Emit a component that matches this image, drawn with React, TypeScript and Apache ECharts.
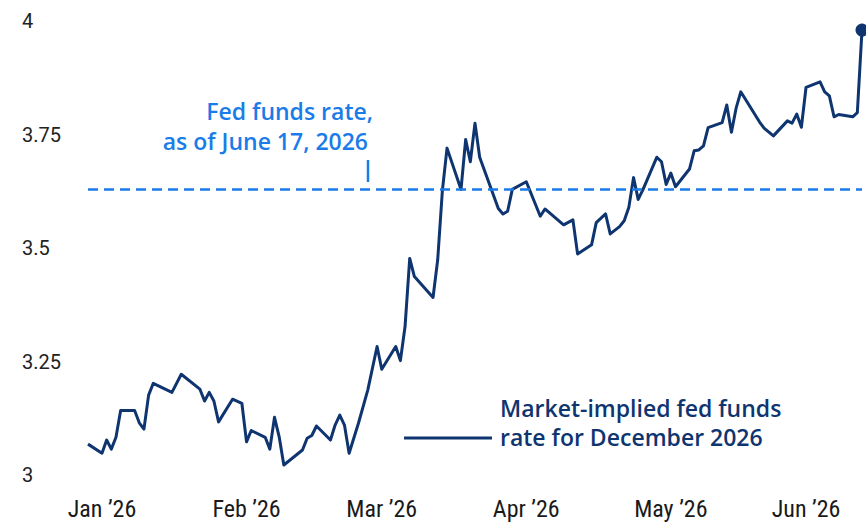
import React, { useEffect, useRef } from "react";
import * as echarts from "echarts";

const dates = [
  "2026-01-02", "2026-01-05", "2026-01-06", "2026-01-07", "2026-01-08", "2026-01-09",
  "2026-01-12", "2026-01-13", "2026-01-14", "2026-01-15", "2026-01-16", "2026-01-20",
  "2026-01-22", "2026-01-26", "2026-01-27", "2026-01-28", "2026-01-29", "2026-01-30",
  "2026-02-02", "2026-02-04", "2026-02-05", "2026-02-06", "2026-02-09", "2026-02-10",
  "2026-02-11", "2026-02-12", "2026-02-13", "2026-02-17", "2026-02-18", "2026-02-19",
  "2026-02-20", "2026-02-23", "2026-02-24", "2026-02-25", "2026-02-26", "2026-02-27",
  "2026-03-01", "2026-03-03", "2026-03-05", "2026-03-06", "2026-03-09", "2026-03-10",
  "2026-03-11", "2026-03-12", "2026-03-13", "2026-03-17", "2026-03-18", "2026-03-19",
  "2026-03-20", "2026-03-23", "2026-03-24", "2026-03-25", "2026-03-26", "2026-03-27",
  "2026-03-31", "2026-04-01", "2026-04-02", "2026-04-03", "2026-04-06", "2026-04-09",
  "2026-04-10", "2026-04-14", "2026-04-16", "2026-04-17", "2026-04-20", "2026-04-21",
  "2026-04-23", "2026-04-24", "2026-04-26", "2026-04-27", "2026-04-28", "2026-04-29",
  "2026-04-30", "2026-05-01", "2026-05-04", "2026-05-05", "2026-05-06", "2026-05-07",
  "2026-05-08", "2026-05-11", "2026-05-12", "2026-05-13", "2026-05-14", "2026-05-15",
  "2026-05-18", "2026-05-19", "2026-05-20", "2026-05-21", "2026-05-22", "2026-05-26",
  "2026-05-27", "2026-05-29", "2026-06-01", "2026-06-02", "2026-06-03", "2026-06-04",
  "2026-06-05", "2026-06-08", "2026-06-09", "2026-06-10", "2026-06-11", "2026-06-12",
  "2026-06-15", "2026-06-16", "2026-06-17",
];

const marketImpliedRate = [
  3.068, 3.048, 3.077, 3.057, 3.083, 3.142,
  3.142, 3.115, 3.101, 3.176, 3.202, 3.182,
  3.222, 3.189, 3.163, 3.182, 3.163, 3.117,
  3.167, 3.158, 3.073, 3.098, 3.083, 3.057,
  3.127, 3.084, 3.022, 3.055, 3.081, 3.087,
  3.108, 3.077, 3.11, 3.132, 3.11, 3.048,
  3.114, 3.187, 3.283, 3.233, 3.283, 3.252,
  3.327, 3.477, 3.437, 3.391, 3.474, 3.626,
  3.72, 3.629, 3.739, 3.69, 3.775, 3.7,
  3.587, 3.575, 3.581, 3.629, 3.646, 3.57,
  3.586, 3.551, 3.562, 3.487, 3.507, 3.556,
  3.575, 3.531, 3.547, 3.56, 3.59, 3.655,
  3.607, 3.628, 3.7, 3.69, 3.64, 3.665,
  3.635, 3.674, 3.714, 3.716, 3.725, 3.765,
  3.776, 3.815, 3.755, 3.808, 3.844, 3.778,
  3.764, 3.747, 3.78, 3.775, 3.795, 3.766,
  3.854, 3.866, 3.844, 3.835, 3.789, 3.794,
  3.789, 3.798, 3.98,
];

const fedFundsRate = 3.625;

const yTicks = [3, 3.25, 3.5, 3.75, 4];

const monthLabels = ["Jan \u201926", "Feb \u201926", "Mar \u201926", "Apr \u201926", "May \u201926", "Jun \u201926"];
const monthLabelDates = ["2026-01-05", "2026-02-05", "2026-03-06", "2026-04-06", "2026-05-07", "2026-06-05"];

const annotationLines = ["Fed funds rate,", "as of June 17, 2026"];
const legendLines = ["Market-implied fed funds", "rate for December 2026"];

const NAVY = "#0f3570";
const BLUE = "#1a7ce8";
const TEXT_FONT = "600 23px 'Open Sans', Lato, sans-serif";

const toTs = (s: string) => {
  const [y, m, d] = s.split("-").map(Number);
  return Date.UTC(y, m - 1, d, 12);
};

export default function App() {
  const ref = useRef<HTMLDivElement>(null);

  useEffect(() => {
    if (!ref.current) return;
    const chart = echarts.init(ref.current, null, { renderer: "svg" });
    const seriesData = dates.map((d, i) => [toTs(d), marketImpliedRate[i]]);
    const labelTs = monthLabelDates.map(toTs);
    const last = seriesData[seriesData.length - 1];

    chart.setOption({
      animation: false,
      backgroundColor: "#ffffff",
      grid: { left: 88, right: 4, top: 21, bottom: 47 },
      xAxis: {
        type: "value",
        min: toTs(dates[0]),
        max: toTs(dates[dates.length - 1]),
        axisLine: { show: false },
        axisTick: { show: false },
        splitLine: { show: false },
        axisLabel: {
          customValues: labelTs,
          hideOverlap: false,
          margin: 22,
          fontSize: 24,
          lineHeight: 24,
          color: "#1a1a1a",
          fontFamily: "'Liberation Sans Narrow', 'Roboto Condensed', Roboto, sans-serif",
          formatter: (v: number) => {
            let best = 0;
            let bd = Infinity;
            labelTs.forEach((t, i) => {
              const dd = Math.abs(t - v);
              if (dd < bd) { bd = dd; best = i; }
            });
            return monthLabels[best];
          },
        },
      },
      yAxis: {
        type: "value",
        min: yTicks[0],
        max: yTicks[yTicks.length - 1],
        interval: 0.25,
        axisLine: { show: false },
        axisTick: { show: false },
        splitLine: { show: false },
        axisLabel: {
          align: "left",
          margin: 66,
          fontSize: 20,
          color: "#222222",
          fontFamily: "Roboto, sans-serif",
          formatter: (v: number) => String(v),
        },
      },
      series: [
        {
          type: "line",
          data: seriesData,
          showSymbol: false,
          symbol: "none",
          lineStyle: { color: NAVY, width: 3, join: "round" },
          markLine: {
            silent: true,
            symbol: ["none", "none"],
            label: { show: false },
            lineStyle: { color: BLUE, width: 2.5, type: [10, 6] },
            data: [{ yAxis: fedFundsRate }],
          },
          z: 3,
        },
        {
          type: "scatter",
          data: [last],
          symbol: "circle",
          symbolSize: 13,
          clip: false,
          itemStyle: { color: NAVY, opacity: 1 },
          z: 4,
        },
      ],
      graphic: [
        {
          type: "text",
          x: 373,
          y: 111,
          style: {
            text: annotationLines[0],
            align: "right",
            verticalAlign: "middle",
            fill: BLUE,
            font: TEXT_FONT,
          },
        },
        {
          type: "text",
          x: 368,
          y: 141,
          style: {
            text: annotationLines[1],
            align: "right",
            verticalAlign: "middle",
            fill: BLUE,
            font: TEXT_FONT,
          },
        },
        {
          type: "line",
          shape: { x1: 368, y1: 160, x2: 368, y2: 182 },
          style: { stroke: BLUE, lineWidth: 2.5 },
        },
        {
          type: "line",
          shape: { x1: 404, y1: 438, x2: 492, y2: 438 },
          style: { stroke: NAVY, lineWidth: 3 },
        },
        {
          type: "text",
          x: 500,
          y: 408,
          style: {
            text: legendLines[0],
            verticalAlign: "middle",
            fill: NAVY,
            font: TEXT_FONT,
          },
        },
        {
          type: "text",
          x: 500,
          y: 437,
          style: {
            text: legendLines[1],
            verticalAlign: "middle",
            fill: NAVY,
            font: TEXT_FONT,
          },
        },
      ],
    });

    return () => chart.dispose();
  }, []);

  return (
    <div
      ref={ref}
      style={{ position: "absolute", left: 0, top: 0, width: 866, height: 522, background: "#fff" }}
    />
  );
}
